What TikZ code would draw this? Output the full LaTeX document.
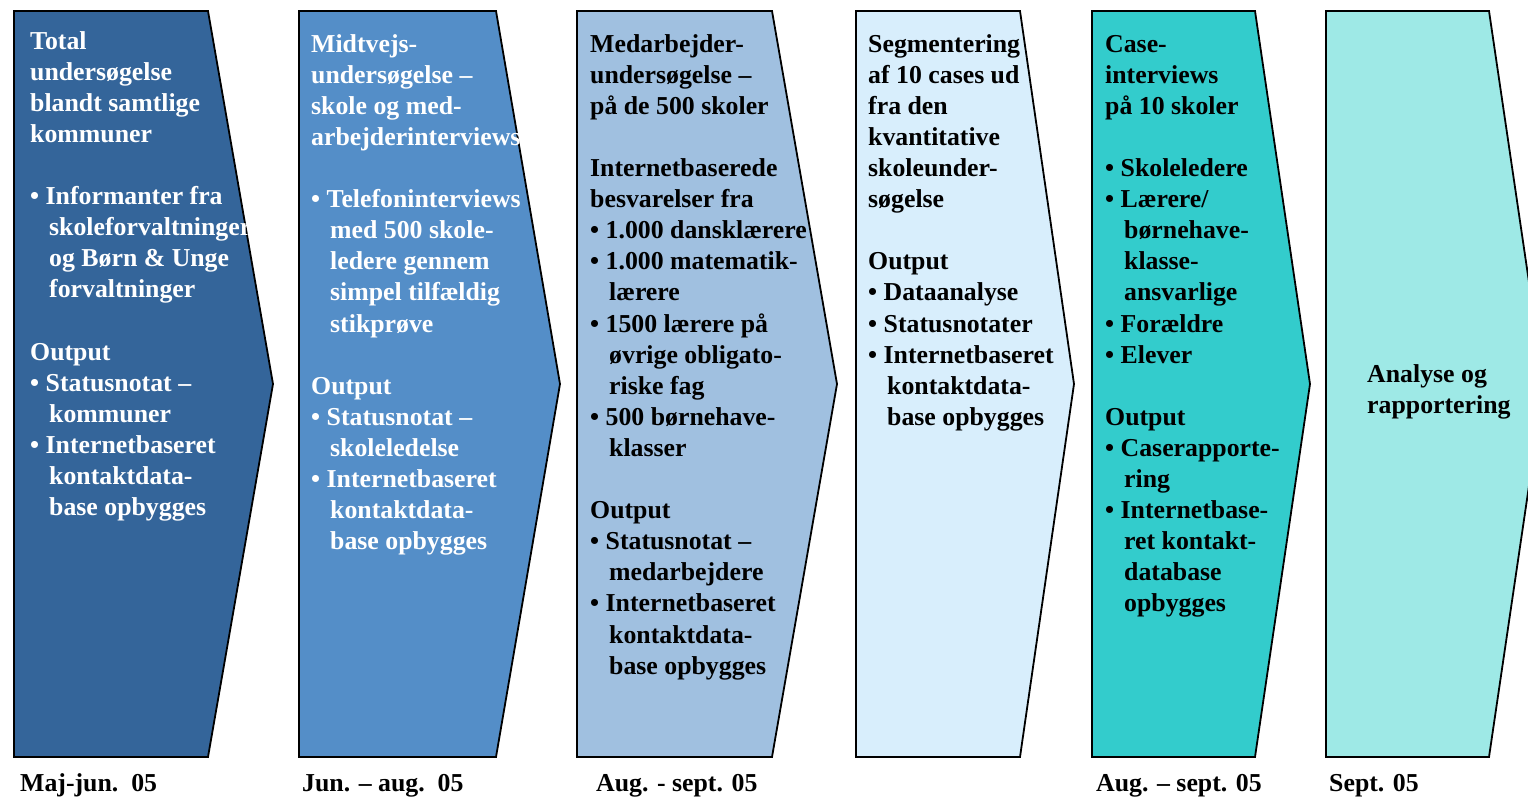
\documentclass[tikz,border=0pt]{standalone}
\usepackage{fontspec}
\setmainfont{Liberation Serif}
\definecolor{cA}{HTML}{34659A}
\definecolor{cB}{HTML}{548EC8}
\definecolor{cC}{HTML}{A0C0E0}
\definecolor{cD}{HTML}{D8EEFC}
\definecolor{cE}{HTML}{33CCCC}
\definecolor{cF}{HTML}{9EE9E6}
\tikzset{
  chevron/.style={draw=black, line width=1.8pt, line join=miter},
  txt/.style={anchor=north west, inner sep=0pt, align=left, font=\fontsize{25.8}{31.1}\selectfont\bfseries},
  datelbl/.style={anchor=base west, inner sep=0pt, font=\fontsize{25.8}{31.1}\selectfont\bfseries},
}
\newcommand\ind{\hspace*{19pt}}
\newcommand\blk{\\[31.1pt]}
\newcommand\chev[4]{\fill[#1] (#2,11) -- (#3,11) -- (#4,384) -- (#3,757) -- (#2,757) -- cycle;
  \draw[chevron] (#2,11) -- (#3,11) -- (#4,384) -- (#3,757) -- (#2,757) -- cycle;}
\begin{document}
\begin{tikzpicture}[x=1pt,y=-1pt]
\useasboundingbox (0,0) rectangle (1528,797);
\clip (0,0) rectangle (1528,797);
\chev{cA}{14}{208}{273}
\chev{cB}{299}{496}{560}
\chev{cC}{577}{772}{837}
\chev{cD}{856}{1020}{1074}
\chev{cE}{1092}{1255}{1310}
\chev{cF}{1326}{1489}{1544}

\node[txt, text=white] (t1) at (30,27.2) {\strut Total\\undersøgelse\\blandt samtlige\\kommuner\blk
• Informanter fra\\\ind skoleforvaltninger\\\ind og Børn \& Unge\\\ind forvaltninger\blk
Output\\• Statusnotat –\\\ind kommuner\\• Internetbaseret\\\ind kontaktdata-\\\ind base opbygges};

\node[txt, text=white] (t2) at (311,30.2) {\strut Midtvejs-\\undersøgelse –\\skole og med-\\arbejderinterviews\blk
• Telefoninterviews\\\ind med 500 skole-\\\ind ledere gennem\\\ind simpel tilfældig\\\ind stikprøve\blk
Output\\• Statusnotat –\\\ind skoleledelse\\• Internetbaseret\\\ind kontaktdata-\\\ind base opbygges};

\node[txt] (t3) at (590,30.2) {\strut Medarbejder-\\undersøgelse –\\på de 500 skoler\blk
Internetbaserede\\besvarelser fra\\• 1.000 dansklærere\\• 1.000 matematik-\\\ind lærere\\• 1500 lærere på\\\ind øvrige obligato-\\\ind riske fag\\• 500 børnehave-\\\ind klasser\blk
Output\\• Statusnotat –\\\ind medarbejdere\\• Internetbaseret\\\ind kontaktdata-\\\ind base opbygges};

\node[txt] (t4) at (868,30.2) {\strut Segmentering\\af 10 cases ud\\fra den\\kvantitative\\skoleunder-\\søgelse\blk
Output\\• Dataanalyse\\• Statusnotater\\• Internetbaseret\\\ind kontaktdata-\\\ind base opbygges};

\node[txt] (t5) at (1105,30.2) {\strut Case-\\interviews\\på 10 skoler\blk
• Skoleledere\\• Lærere/\\\ind børnehave-\\\ind klasse-\\\ind ansvarlige\\• Forældre\\• Elever\blk
Output\\• Caserapporte-\\\ind ring\\• Internetbase-\\\ind ret kontakt-\\\ind database\\\ind opbygges};

\node[txt] (t6) at (1367,360.2) {\strut Analyse og\\rapportering};

\node[datelbl] (d1) at (20,791) {Maj-jun.\ \ 05};
\node[datelbl] (d2) at (302,791) {Jun. – aug.\ \ 05};
\node[datelbl] (d3) at (596,791) {Aug. - sept. 05};
\node[datelbl] (d5) at (1096,791) {Aug. – sept. 05};
\node[datelbl] (d6) at (1329,791) {Sept. 05};
\end{tikzpicture}
\end{document}
